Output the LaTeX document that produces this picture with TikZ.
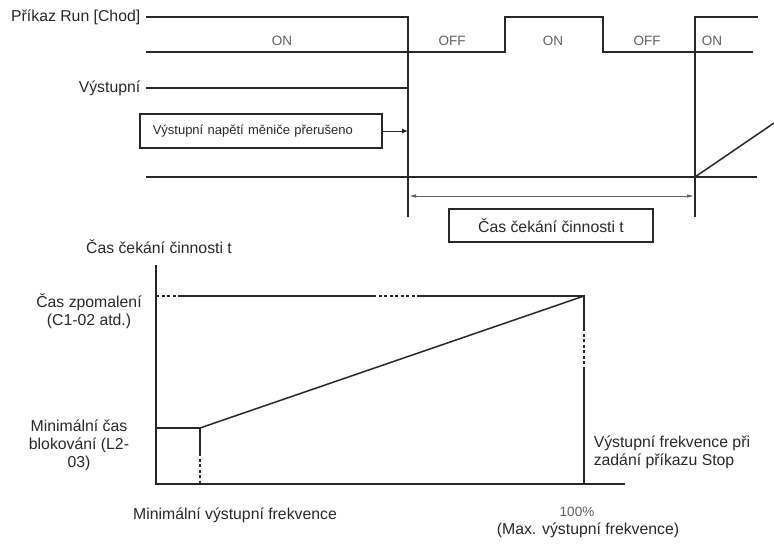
\documentclass[tikz,border=0pt]{standalone}
\usepackage{fontspec}
\setmainfont{Liberation Sans}
\usetikzlibrary{arrows.meta, positioning}
\definecolor{ink}{RGB}{40,40,40}
\definecolor{faint}{RGB}{95,95,95}

\begin{document}
\begin{tikzpicture}[x=1pt, y=-1pt, line width=1.5pt, color=ink,
    every node/.style={font=\fontsize{15.8}{18}\selectfont, text=ink, inner sep=0pt},
    state/.style={font=\fontsize{13.5}{15}\selectfont, text=faint},
    framed/.style={draw=ink, line width=1.5pt, minimum height=34pt},
    dashpart/.style={line width=1.1pt, dash pattern=on 3pt off 2.5pt},
    tip/.style={-{Latex[length=6pt, width=5pt]}}]
  \useasboundingbox (0,0) rectangle (774,546);

  % timing chart
  \node[anchor=east] (runlbl) at (141,17) {Příkaz Run [Chod]};
  \node[anchor=east] (outlbl) at (141,88) {Výstupní};
  \coordinate (stop) at (408,17);
  \coordinate (restart) at (695,17);
  \draw (146,17) -- (stop) -- (408,217);
  \draw (146,52) -- (505,52) |- (603,17) -- (603,52) -- (753,52);
  \draw (695,217) -- (restart) -- (758,17);
  \draw (146,88) -- (408,88);
  \draw (146,177) -- (757,177);
  \draw (695,177) -- (774,123);
  \node[state] (on1) at (282,41) {ON};
  \node[state] (off1) at (452,41) {OFF};
  \node[state] (on2) at (553,41) {ON};
  \node[state] (off2) at (647,41) {OFF};
  \node[state] (on3) at (712,41) {ON};

  \node[framed, anchor=west, text width=216pt, inner xsep=13pt, align=left,
        font=\fontsize{13}{15}\selectfont] (cutoff) at (139,131)
    {Výstupní napětí měniče přerušeno};
  \coordinate (cutoffend) at (408,131);
  \draw[tip, line width=1pt] (cutoff.east) -- (cutoffend);

  \coordinate (waitl) at (409,196);
  \coordinate (waitr) at (694,196);
  \draw[{Latex[length=7pt, width=3.5pt]}-{Latex[length=7pt, width=3.5pt]},
        line width=0.9pt, faint] (waitl) -- (waitr);
  \node[framed, minimum width=204pt, minimum height=33pt] (waitbox) at (551,225.5)
    {Čas čekání činnosti t};

  % wait time vs. output frequency
  \node (ytitle) at (159,247) {Čas čekání činnosti t};
  \draw (156,265) -- (156,484) -- (625,484);
  \draw[dashpart] (156,296) -- (178,296);
  \draw (178,296) -- (373,296);
  \draw[dashpart] (373,296) -- (417,296);
  \draw (417,296) -- (584,296) -- (584,328);
  \draw[dashpart] (584,328) -- (584,367);
  \draw (584,367) -- (584,484);
  \draw (156,428) -- (200,428) -- (200,453);
  \draw[dashpart] (200,453) -- (200,484);
  \draw (200,428) -- (584,296);

  \node[align=center] (decel) at (89,311) {Čas zpomalení\\(C1-02 atd.)};
  \node[align=center] (minblock) at (79,445) {Minimální čas\\blokování (L2-\\03)};
  \node[align=left, anchor=west] (stopfreq) at (593,452)
    {Výstupní frekvence při\\zadání příkazu Stop};
  \node (minfreq) at (235,515) {Minimální výstupní frekvence};
  \node[state] (full) at (577,512) {100\%};
  \node (maxfreq) at (588,530) {(Max. výstupní frekvence)};
\end{tikzpicture}
\end{document}
